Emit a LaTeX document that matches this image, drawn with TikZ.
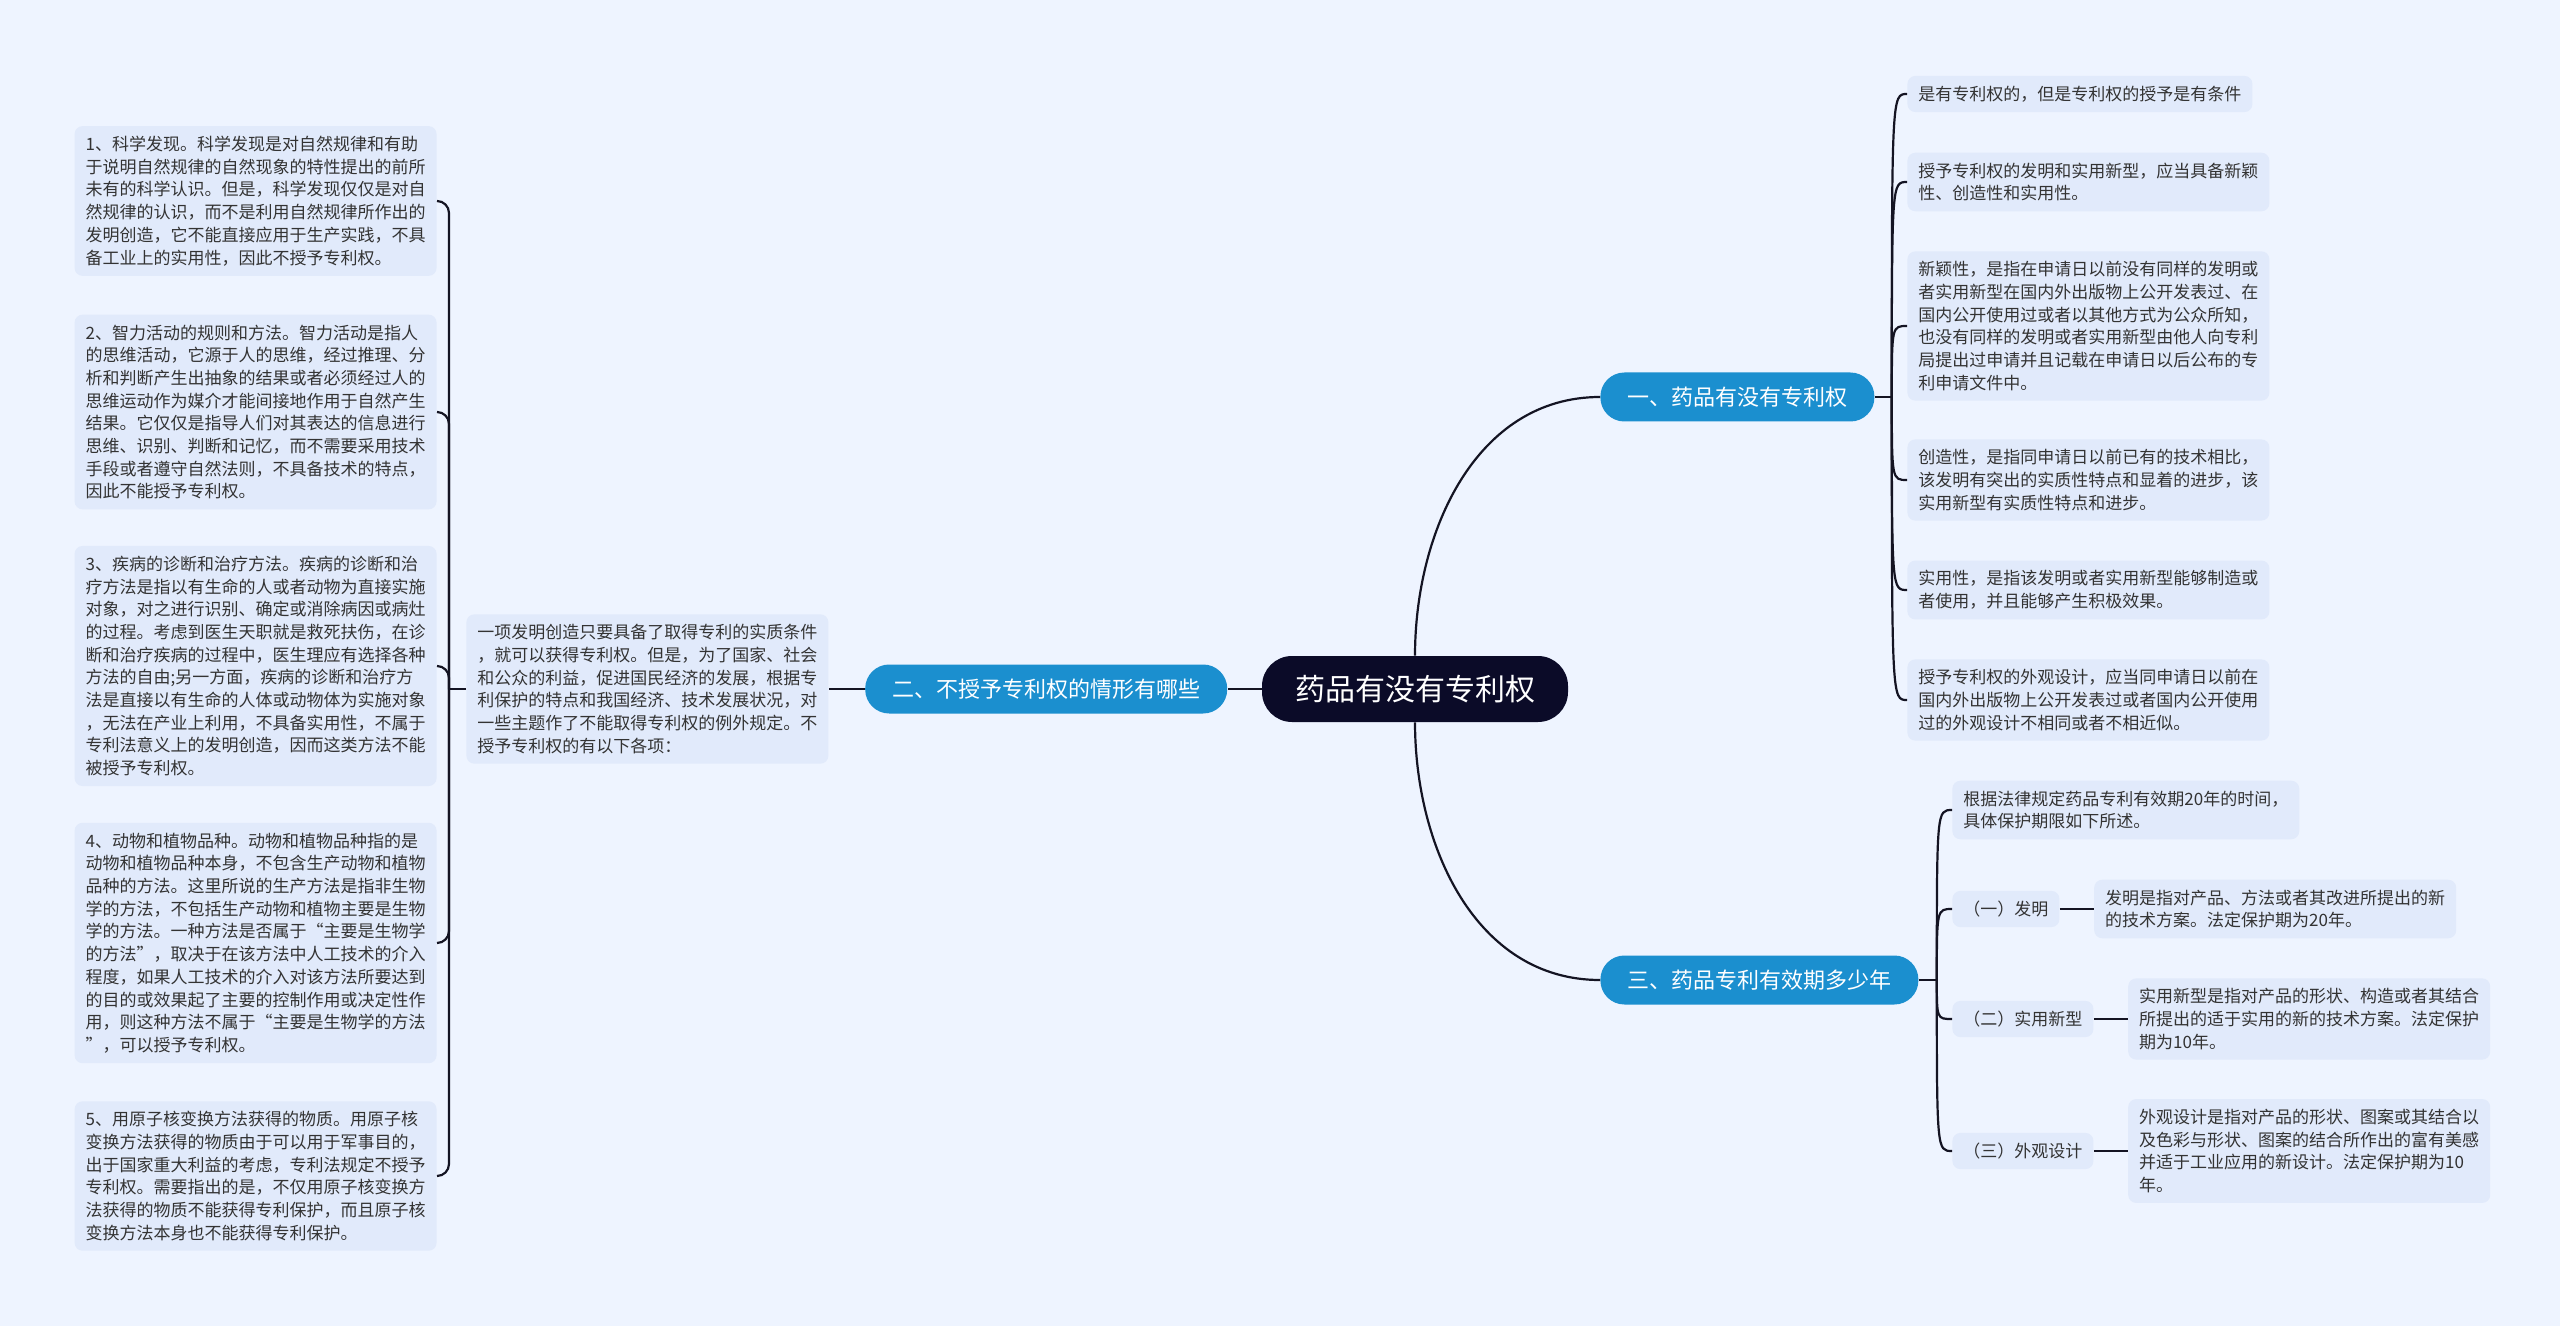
\documentclass[tikz,border=0pt]{standalone}
\usepackage{fontspec}
\setmainfont{Noto Sans CJK SC}
\usepackage{tikz}
\usetikzlibrary{positioning,calc}
\definecolor{bgc}   {RGB}{238,244,255}
\definecolor{leafc} {RGB}{225,234,251}
\definecolor{brc}   {RGB}{ 27,143,207}
\definecolor{mainc} {RGB}{ 11, 11, 40}
\definecolor{linec} {RGB}{ 20, 20, 35}
\definecolor{txtc}  {RGB}{ 51, 51, 51}
\tikzset{
  topic/.style ={rectangle,rounded corners=15pt,fill=mainc,text=white,
                 minimum height=33pt,inner xsep=16.5pt,
                 font=\fontsize{15pt}{18pt}\selectfont},
  branch/.style={rectangle,rounded corners=12pt,fill=brc,text=white,
                 minimum height=24.5pt,inner xsep=13.5pt,
                 font=\fontsize{11pt}{13pt}\selectfont},
  leaf/.style  ={rectangle,rounded corners=4pt,fill=leafc,text=txtc,
                 align=left,inner xsep=5.5pt,inner ysep=5pt,
                 font=\fontsize{8.5pt}{11.35pt}\selectfont},
  link/.style  ={draw=linec,line width=1.1pt},
  hook/.style  ={link,rounded corners=6pt},
}

\begin{document}
\begin{tikzpicture}[x=0.5pt,y=-0.5pt]
  \fill[bgc] (0,0) rectangle (2560,1326);
  \useasboundingbox (0,0) rectangle (2560,1326);

  % centre and the three branches
  \node[topic] (main) at (1415,689) {药品有没有专利权};
  \node[branch,anchor=west] (q1) at (1600,397) {一、药品有没有专利权};
  \node[branch,left=17pt of main] (q2) {二、不授予专利权的情形有哪些};
  \node[branch,anchor=west] (q3) at (1600,980) {三、药品专利有效期多少年};
  \draw[link](main.north) to[out=90,in=180]  (q1.west);
  \draw[link](main.west)  -- (q2.east);
  \draw[link](main.south) to[out=-90,in=180] (q3.west);

  % branch one
  \coordinate (j1) at ([xshift=8.5pt]q1.east);
  \node[leaf,anchor=west] (q1a) at (1907,94)  {是有专利权的，但是专利权的授予是有条件};
  \node[leaf,anchor=west] (q1b) at (1907,182) {授予专利权的发明和实用新型，应当具备新颖\\
    性、创造性和实用性。};
  \node[leaf,anchor=west] (q1c) at (1907,326) {新颖性，是指在申请日以前没有同样的发明或\\
    者实用新型在国内外出版物上公开发表过、在\\
    国内公开使用过或者以其他方式为公众所知，\\
    也没有同样的发明或者实用新型由他人向专利\\
    局提出过申请并且记载在申请日以后公布的专\\
    利申请文件中。};
  \node[leaf,anchor=west] (q1d) at (1907,480) {创造性，是指同申请日以前已有的技术相比，\\
    该发明有突出的实质性特点和显着的进步，该\\
    实用新型有实质性特点和进步。};
  \node[leaf,anchor=west] (q1e) at (1907,590) {实用性，是指该发明或者实用新型能够制造或\\
    者使用，并且能够产生积极效果。};
  \node[leaf,anchor=west] (q1f) at (1907,700) {授予专利权的外观设计，应当同申请日以前在\\
    国内外出版物上公开发表过或者国内公开使用\\
    过的外观设计不相同或者不相近似。};
  \draw[link](q1.east) -- (j1);
  \foreach \n in {q1a,q1b,q1c,q1d,q1e,q1f}
    \draw[link](j1) .. controls (j1 |- \n.west) .. (\n.west);

  % branch two
  \node[leaf,left=18pt of q2] (q2txt) {一项发明创造只要具备了取得专利的实质条件\\
    ，就可以获得专利权。但是，为了国家、社会\\
    和公众的利益，促进国民经济的发展，根据专\\
    利保护的特点和我国经济、技术发展状况，对\\
    一些主题作了不能取得专利权的例外规定。不\\
    授予专利权的有以下各项：};
  \draw[link](q2.west) -- (q2txt.east);
  \coordinate (j2) at ([xshift=-8.5pt]q2txt.west);
  \node[leaf,anchor=east] (q2a) at (437,201) {1、科学发现。科学发现是对自然规律和有助\\
    于说明自然规律的自然现象的特性提出的前所\\
    未有的科学认识。但是，科学发现仅仅是对自\\
    然规律的认识，而不是利用自然规律所作出的\\
    发明创造，它不能直接应用于生产实践，不具\\
    备工业上的实用性，因此不授予专利权。};
  \node[leaf,anchor=east] (q2b) at (437,412) {2、智力活动的规则和方法。智力活动是指人\\
    的思维活动，它源于人的思维，经过推理、分\\
    析和判断产生出抽象的结果或者必须经过人的\\
    思维运动作为媒介才能间接地作用于自然产生\\
    结果。它仅仅是指导人们对其表达的信息进行\\
    思维、识别、判断和记忆，而不需要采用技术\\
    手段或者遵守自然法则，不具备技术的特点，\\
    因此不能授予专利权。};
  \node[leaf,anchor=east] (q2c) at (437,666) {3、疾病的诊断和治疗方法。疾病的诊断和治\\
    疗方法是指以有生命的人或者动物为直接实施\\
    对象，对之进行识别、确定或消除病因或病灶\\
    的过程。考虑到医生天职就是救死扶伤，在诊\\
    断和治疗疾病的过程中，医生理应有选择各种\\
    方法的自由;另一方面，疾病的诊断和治疗方\\
    法是直接以有生命的人体或动物体为实施对象\\
    ，无法在产业上利用，不具备实用性，不属于\\
    专利法意义上的发明创造，因而这类方法不能\\
    被授予专利权。};
  \node[leaf,anchor=east] (q2d) at (437,943) {4、动物和植物品种。动物和植物品种指的是\\
    动物和植物品种本身，不包含生产动物和植物\\
    品种的方法。这里所说的生产方法是指非生物\\
    学的方法，不包括生产动物和植物主要是生物\\
    学的方法。一种方法是否属于“主要是生物学\\
    的方法”，取决于在该方法中人工技术的介入\\
    程度，如果人工技术的介入对该方法所要达到\\
    的目的或效果起了主要的控制作用或决定性作\\
    用，则这种方法不属于“主要是生物学的方法\\
    ”，可以授予专利权。};
  \node[leaf,anchor=east] (q2e) at (437,1176) {5、用原子核变换方法获得的物质。用原子核\\
    变换方法获得的物质由于可以用于军事目的，\\
    出于国家重大利益的考虑，专利法规定不授予\\
    专利权。需要指出的是，不仅用原子核变换方\\
    法获得的物质不能获得专利保护，而且原子核\\
    变换方法本身也不能获得专利保护。};
  \draw[link](q2txt.west) -- (j2);
  \foreach \n in {q2a,q2b,q2c,q2d,q2e}
    \draw[hook](j2) |- (\n.east);

  % branch three
  \coordinate (j3) at ([xshift=9pt]q3.east);
  \node[leaf,anchor=west] (q3a) at (1952,810)  {根据法律规定药品专利有效期20年的时间，\\
    具体保护期限如下所述。};
  \node[leaf,anchor=west] (q3b) at (1952,909)  {（一）发明};
  \node[leaf,anchor=west] (q3c) at (1952,1019) {（二）实用新型};
  \node[leaf,anchor=west] (q3d) at (1952,1151) {（三）外观设计};
  \node[leaf,right=17pt of q3b] (q3bd) {发明是指对产品、方法或者其改进所提出的新\\
    的技术方案。法定保护期为20年。};
  \node[leaf,right=17pt of q3c] (q3cd) {实用新型是指对产品的形状、构造或者其结合\\
    所提出的适于实用的新的技术方案。法定保护\\
    期为10年。};
  \node[leaf,right=17pt of q3d] (q3dd) {外观设计是指对产品的形状、图案或其结合以\\
    及色彩与形状、图案的结合所作出的富有美感\\
    并适于工业应用的新设计。法定保护期为10\\
    年。};
  \draw[link](q3.east) -- (j3);
  \foreach \n in {q3a,q3b,q3c,q3d}
    \draw[link](j3) .. controls (j3 |- \n.west) .. (\n.west);
  \draw[link](q3b.east) -- (q3bd.west);
  \draw[link](q3c.east) -- (q3cd.west);
  \draw[link](q3d.east) -- (q3dd.west);
\end{tikzpicture}
\end{document}
